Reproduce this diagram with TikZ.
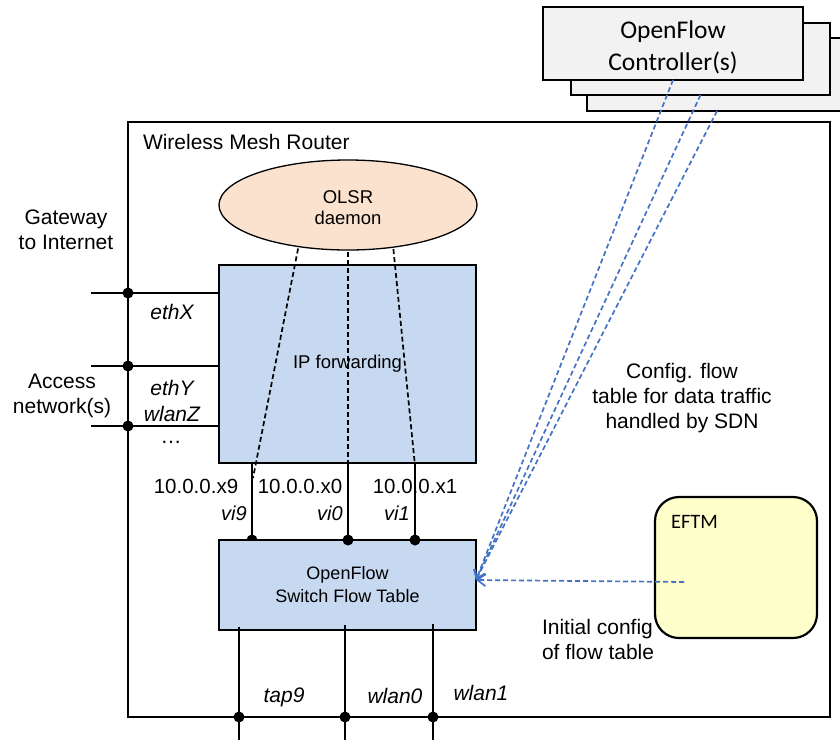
\documentclass[tikz,border=0pt]{standalone}
\usepackage{fontspec}
\setmainfont{Liberation Sans}
\newfontfamily\calibrifont{Carlito}
\usetikzlibrary{shapes.geometric,arrows.meta}

\definecolor{ctrlgray}{RGB}{242,242,242}
\definecolor{ipblue}{RGB}{198,217,240}
\definecolor{olsrpeach}{RGB}{251,226,206}
\definecolor{eftmyellow}{RGB}{255,255,204}
\definecolor{sdnblue}{RGB}{68,114,196}

\tikzset{
  every node/.style={inner sep=0pt, outer sep=0pt},
  ctrlbox/.style={draw=black, line width=2pt, fill=ctrlgray, anchor=north west},
  blk/.style={draw=black, line width=1.4pt, fill=ipblue, anchor=north west},
  lbl/.style={font=\fontsize{21}{25}\selectfont, align=center},
  itl/.style={font=\fontsize{21}{26}\selectfont\itshape, align=center},
  iplbl/.style={font=\fontsize{20.5}{24}\selectfont},
  vilbl/.style={font=\fontsize{20}{24}\selectfont\itshape},
  wire/.style={draw=black, line width=2.2pt},
  thinwire/.style={draw=black, line width=1.5pt},
  olsrdash/.style={draw=black, line width=1.7pt, dash pattern=on 5pt off 3pt, shorten <=2pt},
  sdn/.style={draw=sdnblue, line width=1.7pt, dash pattern=on 5pt off 3pt,
              -{Straight Barb[length=8pt,width=12pt]}},
  portdot/.style={fill=black},
}

\begin{document}
\begin{tikzpicture}[x=1pt,y=-1pt]
\useasboundingbox (0,0) rectangle (840,740);
\clip (0,0) rectangle (840,740);

% router enclosure
\node[draw=black, line width=1.4pt, anchor=north west, minimum width=702pt, minimum height=595pt] (router) at (128,122) {};
\node[lbl, anchor=west] (routerlbl) at (143,142) {Wireless Mesh Router};

% stacked controller boxes
\node[ctrlbox, minimum width=260pt, minimum height=73pt] (ctrl3) at (587,38) {};
\node[ctrlbox, minimum width=259pt, minimum height=72pt] (ctrl2) at (571,23) {};
\node[ctrlbox, minimum width=260pt, minimum height=73pt] (ctrl1) at (543,7) {};
\node[font=\calibrifont\fontsize{25.5}{32}\selectfont, align=center] (ctrltxt) at (673,47) {OpenFlow\\Controller(s)};

% OLSR daemon
\node[ellipse, draw=black, line width=1.3pt, fill=olsrpeach, minimum width=258pt, minimum height=90pt] (olsr) at (348,205) {};
\node[font=\fontsize{18.5}{21}\selectfont, align=center] (olsrtxt) at (348,208) {OLSR\\daemon};

% IP forwarding block
\node[blk, minimum width=257pt, minimum height=198pt, font=\fontsize{18.5}{22}\selectfont] (ip) at (219,265) {IP forwarding};

% virtual interface columns
\coordinate (x9) at (252,0);
\coordinate (x0) at (348,0);
\coordinate (x1) at (415,0);
\coordinate (vi9port) at (252,540);
\fill[portdot] (vi9port) circle (5.5pt);

% OpenFlow switch block
\node[blk, minimum width=257pt, minimum height=90pt, align=center, font=\fontsize{18}{23}\selectfont] (sw) at (219,540) {OpenFlow\\Switch Flow Table};

% EFTM block
\node[draw=black, line width=2.2pt, fill=eftmyellow, rounded corners=24pt, anchor=north west,
      minimum width=162pt, minimum height=141pt] (eftm) at (655,497) {};
\node[font=\calibrifont\fontsize{20.5}{24}\selectfont, anchor=west] (eftmlbl) at (671,522) {EFTM};

% links between IP forwarding and the switch
\draw[wire] (ip.south -| x9) -- (vi9port);
\draw[wire] (ip.south -| x0) -- (sw.north -| x0);
\draw[wire] (ip.south -| x1) -- (sw.north -| x1);
\fill[portdot] (sw.north -| x0) circle (5.5pt);
\fill[portdot] (sw.north -| x1) circle (5.5pt);

% OLSR control paths
\coordinate (e9) at (253,478);
\coordinate (e0) at (348,466);
\coordinate (e1) at (415,466);
\draw[olsrdash] (olsr.220) -- (e9);
\draw[olsrdash] (olsr.south) -- (e0);
\draw[olsrdash] (olsr.317) -- (e1);

% external interfaces on the left
\coordinate (gwX) at (91,293);
\coordinate (acY) at (91,366);
\coordinate (acZ) at (91,426);
\draw[thinwire] (gwX) -- (gwX -| ip.west);
\draw[thinwire] (acY) -- (acY -| ip.west);
\draw[thinwire] (acZ) -- (acZ -| ip.west);
\fill[portdot] (gwX -| router.west) circle (5.5pt);
\fill[portdot] (acY -| router.west) circle (5.5pt);
\fill[portdot] (acZ -| router.west) circle (5.5pt);

% switch ports at the bottom
\coordinate (t9) at (239,740);
\coordinate (w0) at (345,740);
\coordinate (w1) at (433,740);
\draw[wire, shorten <=-3pt] (sw.south -| t9) -- (t9);
\draw[wire, shorten <=-5pt] (sw.south -| w0) -- (w0);
\draw[wire, shorten <=-6pt] (sw.south -| w1) -- (w1);
\fill[portdot] (t9 |- router.south) circle (5.5pt);
\fill[portdot] (w0 |- router.south) circle (5.5pt);
\fill[portdot] (w1 |- router.south) circle (5.5pt);

% labels
\node[lbl] (gw) at (66,230) {Gateway\\to Internet};
\node[lbl] (acc) at (62,396) {Access\\network(s)};
\node[itl] (ethx) at (172,312) {ethX};
\node[itl] (ethyz) at (172,401) {ethY\\wlanZ};
\node[lbl] (more) at (171,442) {…};

\node[iplbl] (ip9) at (196,486) {10.0.0.x9};
\node[iplbl] (ip0) at (300,486) {10.0.0.x0};
\node[iplbl] (ip1) at (415,486) {10.0.0.x1};
\node[vilbl] (vi9) at (234,513) {vi9};
\node[vilbl] (vi0) at (330,513) {vi0};
\node[vilbl] (vi1) at (397,513) {vi1};

\node[itl] (tap9) at (284,697) {tap9};
\node[itl] (wlan0) at (395,696) {wlan0};
\node[itl] (wlan1) at (481,693) {wlan1};

\node[lbl] (sdnnote) at (682,398) {Config. flow\\table for data traffic\\handled by SDN};
\node[lbl, align=left, anchor=west] (initnote) at (542,639) {Initial config\\of flow table};

% flow table configuration paths
\coordinate (swin) at ([yshift=5pt]sw.east);
\coordinate (eftmout) at (684,582);
\draw[sdn] (ctrl1.south) -- (swin);
\draw[sdn] (ctrl2.south) -- (swin);
\draw[sdn] (ctrl3.south) -- (swin);
\draw[sdn] (eftmout) -- (swin);
\end{tikzpicture}
\end{document}
